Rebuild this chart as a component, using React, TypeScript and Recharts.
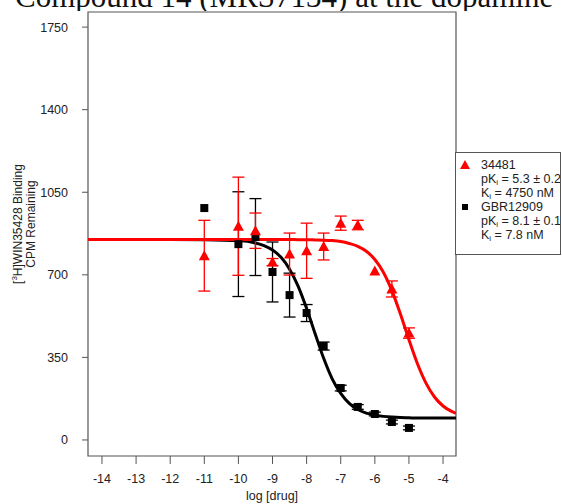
import React from 'react';
import { ComposedChart, Line, Scatter, ErrorBar, XAxis, YAxis, ReferenceArea } from 'recharts';

// axes
const xTicks = [-14, -13, -12, -11, -10, -9, -8, -7, -6, -5, -4];
const yTicks = [0, 350, 700, 1050, 1400, 1750];
const xDomain = [-14.41, -3.62];
const yDomain = [-68, 1814];

// measured points (log dose, mean CPM, SEM)
const doses = [-11, -10, -9.5, -9, -8.5, -8, -7.5, -7, -6.5, -6, -5.5, -5];
const gbrMean = [983, 830, 860, 712, 614, 538, 398, 220, 140, 110, 76, 51];
const gbrSem = [0, 222, 163, 127, 93, 36, 17, 12, 10, 8, 8, 8];
const cmpMean = [781, 906, 887, 754, 788, 802, 820, 919, 911, 716, 640, 453];
const cmpSem = [150, 208, 75, 15, 89, 117, 57, 30, 20, 0, 34, 22];

// fitted curves
const fitX = [-14.41, -12, -11, -10, -9.5, -9.25, -9, -8.75, -8.5, -8.25, -8, -7.75, -7.5, -7.25, -7, -6.75,
  -6.5, -6.25, -6, -5.75, -5.5, -5.25, -5, -4.75, -4.5, -4.25, -4, -3.75, -3.62];
const gbrFit = [850, 850, 849, 845, 835, 824, 805, 774, 724, 652, 557, 450, 346, 259, 197, 155,
  129, 114, 105, 100, 97, 95, 94, 93, 93, 93, 93, 93, 93];
const cmpFit = [850, 850, 850, 850, 850, 850, 850, 850, 850, 849, 849, 848, 847, 845, 841, 833,
  821, 800, 765, 711, 633, 534, 425, 323, 241, 182, 144, 121, 113];

const legendNames = ['34481', 'GBR12909'];
const legendPk = ['5.3 \u00b1 0.2', '8.1 \u00b1 0.1'];
const legendKi = ['4750 nM', '7.8 nM'];

const RED = '#ff0000';
const BLACK = '#000000';
const FRAME = '#555555';
const SANS = '"Liberation Sans", Arial, Helvetica, sans-serif';

const gbrPoints = doses.map((x, i) => ({ x, y: gbrMean[i], err: gbrSem[i] }));
const cmpPoints = doses.map((x, i) => ({ x, y: cmpMean[i], err: cmpSem[i] }));
const gbrCurve = fitX.map((x, i) => ({ x, y: gbrFit[i] }));
const cmpCurve = fitX.map((x, i) => ({ x, y: cmpFit[i] }));

function Triangle(props: any) {
  const { cx, cy } = props;
  if (cx == null || cy == null) return null;
  return <polygon points={`${cx - 5.5},${cy + 4.5} ${cx + 5.5},${cy + 4.5} ${cx},${cy - 5.5}`} fill={RED} />;
}

function Square(props: any) {
  const { cx, cy } = props;
  if (cx == null || cy == null) return null;
  return <rect x={cx - 4} y={cy - 4} width={8} height={8} fill={BLACK} />;
}

function YTitle(props: any) {
  const vb = props.viewBox;
  if (!vb) return null;
  const cy = vb.y + vb.height / 2 - 10;
  return (
    <g transform={`translate(${vb.x},${cy}) rotate(-90)`} fontFamily={SANS} fontSize={12} fill="#222">
      <text x={0} y={22} textAnchor="middle">
        [<tspan fontSize={8} dy={-5}>3</tspan>
        <tspan dy={5}>H]WIN35428 Binding</tspan>
      </text>
      <text x={0} y={34.5} textAnchor="middle">CPM Remaining</text>
    </g>
  );
}

function LegendBox() {
  const row: React.CSSProperties = { height: 14, lineHeight: '14px', position: 'relative', whiteSpace: 'nowrap' };
  const sub: React.CSSProperties = { fontSize: 8, verticalAlign: -2 };
  return (
    <div
      style={{
        position: 'absolute', left: 455, top: 152, width: 106, height: 103, boxSizing: 'border-box',
        border: `1px solid ${FRAME}`, background: '#fff', fontFamily: SANS, fontSize: 12.5, color: '#222',
        paddingTop: 5, paddingLeft: 25, overflow: 'hidden',
      }}
    >
      {legendNames.map((name, i) => (
        <div key={name}>
          <div style={row}>
            <svg width={12} height={12} style={{ position: 'absolute', left: -22, top: 1 }}>
              {i === 0 ? <polygon points="1,10 11,10 6,1" fill={RED} /> : <rect x={3} y={3} width={6} height={6} fill={BLACK} />}
            </svg>
            {name}
          </div>
          <div style={row}>pK<span style={sub}>i</span> = {legendPk[i]}</div>
          <div style={row}>K<span style={sub}>i</span> = {legendKi[i]}</div>
        </div>
      ))}
    </div>
  );
}

export default function App() {
  return (
    <div style={{ position: 'fixed', left: 0, top: 0, width: 562, height: 504, background: '#fff', overflow: 'hidden' }}>
      <svg width={562} height={11} style={{ position: 'absolute', left: 0, top: 0 }}>
        <text x={15} y={6.5} fontFamily='"Liberation Serif", "Times New Roman", serif' fontSize={31} fill="#111">
          Compound 14 (MRS7134) at the dopamine
        </text>
      </svg>
      <ComposedChart width={562} height={504} margin={{ top: 12, right: 106, bottom: 0, left: 0 }} style={{ position: 'absolute', left: 0, top: 0 }}>
        <XAxis
          type="number"
          dataKey="x"
          domain={xDomain}
          ticks={xTicks}
          allowDataOverflow
          height={48}
          axisLine={false}
          tickSize={8}
          tickMargin={10}
          tickLine={{ stroke: FRAME }}
          tick={{ fill: '#222', fontSize: 12.5, fontFamily: SANS }}
          label={{ value: 'log [drug]', position: 'insideBottom', offset: 4, fill: '#222', fontSize: 12.5, fontFamily: SANS }}
        />
        <YAxis
          type="number"
          dataKey="y"
          domain={yDomain}
          ticks={yTicks}
          allowDataOverflow
          width={88}
          axisLine={false}
          tickSize={6}
          tickMargin={14}
          tickLine={{ stroke: FRAME }}
          tick={{ fill: '#222', fontSize: 12.5, fontFamily: SANS }}
          label={<YTitle />}
        />
        <ReferenceArea x1={xDomain[0]} x2={xDomain[1]} y1={yDomain[0]} y2={yDomain[1]} fill="none" stroke={FRAME} strokeWidth={1.2} fillOpacity={0} ifOverflow="visible" />
        <Scatter data={gbrPoints} shape={<Square />} isAnimationActive={false}>
          <ErrorBar dataKey="err" direction="y" width={6} stroke={BLACK} strokeWidth={1.3} isAnimationActive={false} />
        </Scatter>
        <Line data={gbrCurve} dataKey="y" type="monotone" stroke={BLACK} strokeWidth={3} dot={false} isAnimationActive={false} />
        <Scatter data={cmpPoints} shape={<Triangle />} isAnimationActive={false}>
          <ErrorBar dataKey="err" direction="y" width={6} stroke={RED} strokeWidth={1.3} isAnimationActive={false} />
        </Scatter>
        <Line data={cmpCurve} dataKey="y" type="monotone" stroke={RED} strokeWidth={3} dot={false} isAnimationActive={false} />
      </ComposedChart>
      <LegendBox />
    </div>
  );
}
